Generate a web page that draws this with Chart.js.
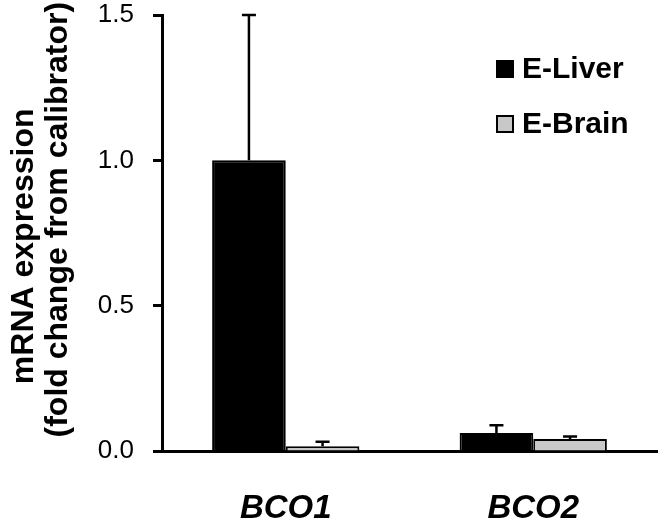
<!DOCTYPE html>
<html><head><meta charset="utf-8">
<script src="https://cdn.jsdelivr.net/npm/chart.js@4/dist/chart.umd.min.js"></script>
<style>html,body{margin:0;padding:0;background:#fff;} canvas{display:block;}</style>
</head><body>
<canvas id="c" width="664" height="527"></canvas>
<script>
const categories = ['BCO1', 'BCO2'];
const seriesNames = ['E-Liver', 'E-Brain'];
const liverValues = [1.0, 0.062];
const liverErrors = [0.5, 0.027];
const brainValues = [0.016, 0.041];
const brainErrors = [0.016, 0.009];
const yTicks = [0, 0.5, 1.0, 1.5];
const yTitle = ['mRNA expression   ', '   (fold change from calibrator)'];

const FONT = '"Liberation Sans", Arial, Helvetica, sans-serif';
Chart.defaults.font.family = FONT;
Chart.defaults.color = '#000';

const errorBars = {
  id: 'errorBars',
  afterDatasetsDraw(chart) {
    const ctx = chart.ctx, y = chart.scales.y;
    chart.data.datasets.forEach((ds, i) => {
      const meta = chart.getDatasetMeta(i);
      meta.data.forEach((bar, j) => {
        const v = ds.data[j], e = ds.errors[j];
        const yTop = y.getPixelForValue(v + e), yBar = y.getPixelForValue(v);
        ctx.save();
        ctx.strokeStyle = '#000';
        ctx.lineWidth = 2.5;
        ctx.beginPath();
        ctx.moveTo(bar.x, yBar); ctx.lineTo(bar.x, yTop);
        ctx.moveTo(bar.x - 7, yTop); ctx.lineTo(bar.x + 7, yTop);
        ctx.stroke();
        ctx.restore();
      });
    });
  }
};

const customLegend = {
  id: 'customLegend',
  afterDraw(chart) {
    const ctx = chart.ctx, ca = chart.chartArea;
    const x0 = ca.right - 160;
    chart.data.datasets.forEach((ds, i) => {
      const cy = ca.top + 54 + i * 55;
      ctx.save();
      ctx.fillStyle = ds.backgroundColor;
      ctx.strokeStyle = '#000';
      ctx.lineWidth = 2;
      ctx.fillRect(x0, cy - 8, 16, 16);
      ctx.strokeRect(x0, cy - 8, 16, 16);
      ctx.fillStyle = '#000';
      ctx.font = 'bold 30px ' + FONT;
      ctx.textBaseline = 'middle';
      ctx.textAlign = 'left';
      ctx.fillText(ds.label, x0 + 25, cy + 1);
      ctx.restore();
    });
  }
};

new Chart(document.getElementById('c'), {
  type: 'bar',
  data: {
    labels: categories,
    datasets: [
      { label: seriesNames[0], data: liverValues, errors: liverErrors,
        backgroundColor: '#000000', borderColor: '#000000', borderWidth: 2,
        categoryPercentage: 0.595, barPercentage: 1.0 },
      { label: seriesNames[1], data: brainValues, errors: brainErrors,
        backgroundColor: '#c8c8c8', borderColor: '#000000', borderWidth: 2,
        categoryPercentage: 0.595, barPercentage: 1.0 }
    ]
  },
  options: {
    responsive: false,
    animation: false,
    devicePixelRatio: 1,
    layout: { padding: { top: 15, right: 7, left: 0, bottom: 0 } },
    plugins: { legend: { display: false }, tooltip: { enabled: false } },
    scales: {
      x: {
        grid: { drawOnChartArea: false, drawTicks: false },
        border: { display: true, color: '#000', width: 3 },
        ticks: { font: { size: 33, weight: 'bold', style: 'italic' }, padding: 38, color: '#000' },
        afterFit(s) { s.height = 76; s.paddingLeft = 0; s.paddingRight = 0; }
      },
      y: {
        min: 0, max: 1.5,
        afterBuildTicks(s) { s.ticks = yTicks.map(v => ({ value: v })); },
        grid: { drawOnChartArea: false, drawTicks: true, tickLength: 9, tickWidth: 3, tickColor: '#000', color: '#000' },
        border: { display: true, color: '#000', width: 3 },
        ticks: { font: { size: 26 }, padding: 19, color: '#000',
          callback: v => Number(v).toFixed(1) },
        title: { display: true, text: yTitle, color: '#000',
          font: { size: 32, weight: 'bold', lineHeight: 1.0625 }, padding: { top: 7, bottom: 0 } },
        afterFit(s) { s.width = 162; s.paddingTop = 0; s.paddingBottom = 0; }
      }
    }
  },
  plugins: [errorBars, customLegend]
});
</script>
</body></html>
